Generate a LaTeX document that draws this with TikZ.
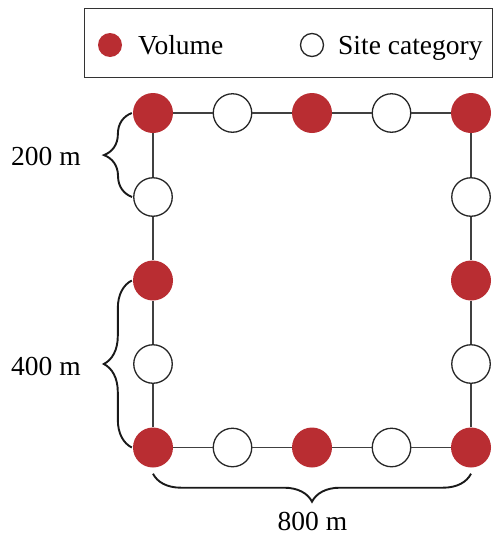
\documentclass[tikz,border=0pt]{standalone}
\usepackage{fontspec}
\setmainfont{Liberation Serif}
\usetikzlibrary{decorations.pathreplacing,calc}
\definecolor{volred}{RGB}{185,45,50}
\begin{document}
\begin{tikzpicture}[x=1pt,y=-1pt,
  vol/.style={circle,fill=volred,minimum size=40pt,inner sep=0pt},
  site/.style={circle,draw=black!85,line width=1.3pt,fill=white,minimum size=38.5pt,inner sep=0pt},
  link/.style={draw=black!75,line width=1.3pt},
  brc/.style={decorate,decoration={brace,amplitude=28pt},line width=1.9pt,draw=black!90},
  lbl/.style={font=\fontsize{27.5}{30}\selectfont,inner sep=0pt,anchor=base}]
\useasboundingbox (0,0) rectangle (496,536);
% legend
\node (legend) [draw=black!80,line width=1.3pt,minimum width=408pt,minimum height=69pt,inner sep=0pt] at (288.5,43) {};
\node (lv) [vol,minimum size=24pt] at (110,45) {};
\node (lvt) [lbl,anchor=base west] at (138,54) {Volume};
\node (ls) [site,minimum size=23pt] at (312,45) {};
\node (lst) [lbl,anchor=base west] at (338,54) {Site category};
% grid nodes
\node (n11) [vol]  at (153,113) {};
\node (n21) [site] at (232.5,113) {};
\node (n31) [vol]  at (312,113) {};
\node (n41) [site] at (391.5,113) {};
\node (n51) [vol]  at (471,113) {};
\node (n12) [site] at (153,197) {};
\node (n13) [vol]  at (153,280.5) {};
\node (n14) [site] at (153,364) {};
\node (n15) [vol]  at (153,447.5) {};
\node (n52) [site] at (471,197) {};
\node (n53) [vol]  at (471,280.5) {};
\node (n54) [site] at (471,364) {};
\node (n55) [vol]  at (471,447.5) {};
\node (n25) [site] at (232.5,447.5) {};
\node (n35) [vol]  at (312,447.5) {};
\node (n45) [site] at (391.5,447.5) {};
% links
\draw[link] (n11) -- (n21); \draw[link] (n21) -- (n31); \draw[link] (n31) -- (n41); \draw[link] (n41) -- (n51);
\draw[link] (n51) -- (n52); \draw[link] (n52) -- (n53); \draw[link] (n53) -- (n54); \draw[link] (n54) -- (n55);
\draw[link] (n55) -- (n45); \draw[link] (n45) -- (n35); \draw[link] (n35) -- (n25); \draw[link] (n25) -- (n15);
\draw[link] (n15) -- (n14); \draw[link] (n14) -- (n13); \draw[link] (n13) -- (n12); \draw[link] (n12) -- (n11);
% braces
\draw[brc] ($(n12.west)+(-1,0)$) -- ($(n11.west)+(-1,0)$);
\draw[brc] ($(n15.west)+(-1,0)$) -- ($(n13.west)+(-1,0)$);
\draw[brc] ($(n55.south)+(0,6)$) -- ($(n15.south)+(0,6)$);
% labels
\node (t200) [lbl] at (46,165) {200 m};
\node (t400) [lbl] at (46,375) {400 m};
\node (t800) [lbl] at (312.5,530) {800 m};
\end{tikzpicture}
\end{document}
